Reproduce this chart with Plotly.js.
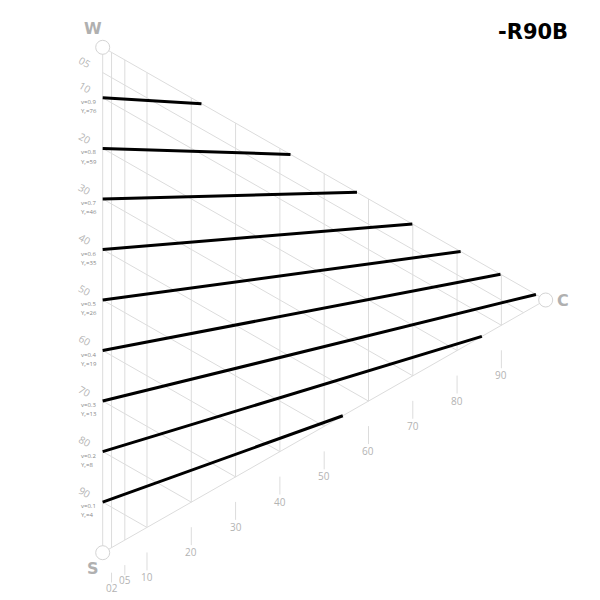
<!DOCTYPE html>
<html>
<head>
<meta charset="utf-8">
<script src="https://cdn.plot.ly/plotly-3.0.1.min.js"></script>
<style>html,body{margin:0;padding:0;background:#fff}</style>
</head>
<body>
<div id="chart" style="width:600px;height:600px"></div>
<script>
// NCS triangle, hue R90B: lines of constant lightness v
const hueName = '-R90B';

const blackSteps = [5, 10, 20, 30, 40, 50, 60, 70, 80, 90];
const blackLabels = ['05', '10', '20', '30', '40', '50', '60', '70', '80', '90'];

const chromaSteps = [2, 5, 10, 20, 30, 40, 50, 60, 70, 80, 90];
const chromaLabels = ['02', '05', '10', '20', '30', '40', '50', '60', '70', '80', '90'];

const lineV = ['0.9', '0.8', '0.7', '0.6', '0.5', '0.4', '0.3', '0.2', '0.1'];
const lineYr = [76, 59, 46, 35, 26, 19, 13, 8, 4];
const lineStartS = [10, 20, 30, 40, 50, 60, 70, 80, 90];
const lineEndC = [22.3, 42.4, 57.4, 69.9, 80.8, 89.8, 97.8, 85.6, 54.2];
const lineEndS = [0, 0, 0, 0, 0, 0, 0, 14.4, 45.8];

// s = blackness, c = chromaticness  ->  x = c, y = s + c/2 (y reversed)
const toY = (s, c) => s + c / 2;

const GRID = '#dcdcdc';
const LABEL = '#b3b3b3';

// grid: constant blackness + constant chromaticness + triangle edges
let gx = [], gy = [];
blackSteps.forEach(s => {
  gx.push(0, 100 - s, null);
  gy.push(toY(s, 0), toY(s, 100 - s), null);
});
chromaSteps.forEach(c => {
  gx.push(c, c, null);
  gy.push(toY(0, c), toY(100 - c, c), null);
});
gx.push(0, 100, 0, 0);
gy.push(toY(0, 0), toY(0, 100), toY(100, 0), toY(0, 0));

// ticks under the S-C edge
let tx = [], ty = [];
chromaSteps.forEach(c => {
  const edge = toY(100 - c, c);
  const len = c < 10 ? 6.9 : 8.5;
  tx.push(c, c, null);
  ty.push(edge + 4.95, edge + len, null);
});

const traces = [
  {x: gx, y: gy, mode: 'lines', line: {color: GRID, width: 1}, hoverinfo: 'skip'},
  {x: tx, y: ty, mode: 'lines', line: {color: GRID, width: 1}, hoverinfo: 'skip'}
];

lineStartS.forEach((s, i) => {
  traces.push({
    x: [0, lineEndC[i]],
    y: [toY(s, 0), toY(lineEndS[i], lineEndC[i])],
    mode: 'lines',
    line: {color: '#000', width: 3},
    hoverinfo: 'skip'
  });
});

// corner circles W, S, C
traces.push({
  x: [0, 0, 100],
  y: [toY(0, 0), toY(100, 0), toY(0, 100)],
  mode: 'markers',
  marker: {size: 14, color: '#fff', line: {color: '#d4d4d4', width: 1}},
  hoverinfo: 'skip'
});

const annotations = [];
blackSteps.forEach((s, i) => {
  annotations.push({
    x: -4.1, y: toY(s, -4.1), text: blackLabels[i], showarrow: false,
    textangle: 30, font: {family: 'Open Sans', size: 10, color: LABEL}
  });
});
chromaSteps.forEach((c, i) => {
  const edge = toY(100 - c, c);
  annotations.push({
    x: c, y: edge + (c < 10 ? 7.9 : 9.9), text: chromaLabels[i], showarrow: false,
    font: {family: 'Open Sans', size: 10, color: LABEL}
  });
});
lineStartS.forEach((s, i) => {
  annotations.push({
    x: -5.4, y: toY(s, 0) + 0.8, xanchor: 'left', text: 'v=' + lineV[i], showarrow: false,
    font: {family: 'Open Sans', size: 6, color: '#888'}
  });
  annotations.push({
    x: -5.4, y: toY(s, 0) + 2.6, xanchor: 'left', text: 'Y<sub>r</sub>=' + lineYr[i], showarrow: false,
    font: {family: 'Open Sans', size: 6, color: '#888'}
  });
});
const corner = {family: 'DejaVu Sans', size: 16, color: '#b0b0b0'};
annotations.push({x: -2.2, y: -3.8, text: '<b>W</b>', showarrow: false, font: corner});
annotations.push({x: -2.3, y: 103.2, text: '<b>S</b>', showarrow: false, font: corner});
annotations.push({x: 103.9, y: 50.1, text: '<b>C</b>', showarrow: false, font: corner});
annotations.push({
  xref: 'paper', yref: 'paper', x: 0.888, y: 0.946, xanchor: 'center', yanchor: 'middle',
  text: '<b>' + hueName + '</b>', showarrow: false,
  font: {family: 'DejaVu Sans', size: 21, color: '#000'}
});

const layout = {
  width: 600, height: 600,
  margin: {l: 0, r: 0, t: 0, b: 0},
  paper_bgcolor: '#fff', plot_bgcolor: '#fff',
  showlegend: false,
  xaxis: {range: [-23.18, 112.26], visible: false, fixedrange: true},
  yaxis: {range: [109.36, -9.36], visible: false, fixedrange: true},
  annotations: annotations
};

Plotly.newPlot('chart', traces, layout, {staticPlot: true});
</script>
</body>
</html>
